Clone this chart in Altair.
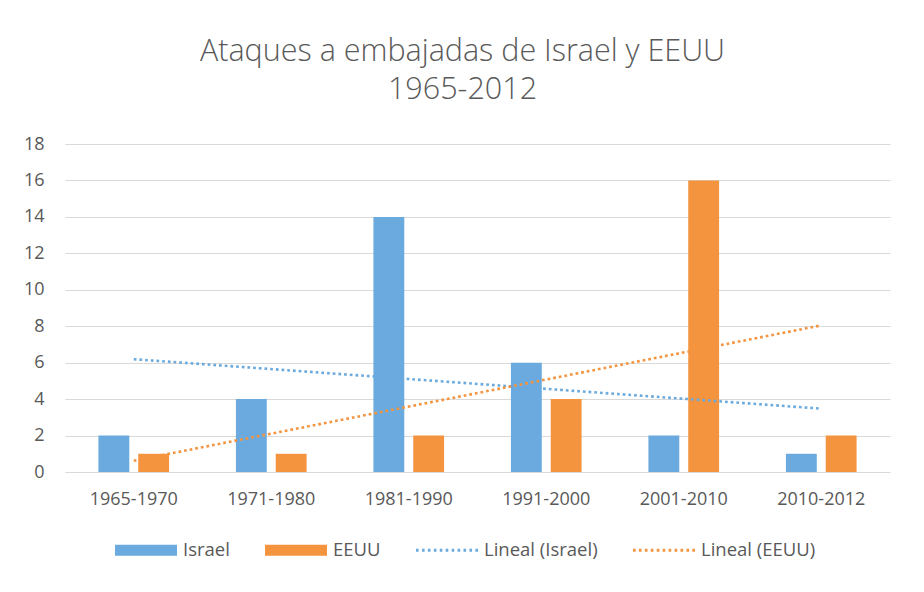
import altair as alt
import pandas as pd

# ---- data ----
categories = ["1965-1970", "1971-1980", "1981-1990", "1991-2000", "2001-2010", "2010-2012"]
israel = [2, 4, 14, 6, 2, 1]
eeuu = [1, 1, 2, 4, 16, 2]
series = ["Israel", "EEUU"]
legend_items = ["Israel", "EEUU", "Lineal (Israel)", "Lineal (EEUU)"]
y_ticks = [0, 2, 4, 6, 8, 10, 12, 14, 16, 18]
title_lines = ["Ataques a embajadas de Israel y EEUU", "1965-2012"]

BLUE = "#6aaade"
ORANGE = "#f4943f"
GRAY = "#595959"
FONT = "Open Sans"

rows = []
for i, c in enumerate(categories):
    rows.append({"cat": c, "idx": i + 1, "serie": "Israel", "value": israel[i]})
    rows.append({"cat": c, "idx": i + 1, "serie": "EEUU", "value": eeuu[i]})
df = pd.DataFrame(rows)

# legend symbol shapes (style only)
bar_path = "M-1,-0.18H1V0.18H-1Z"
dots = []
n = 11
for k in range(n):
    x0 = -1 + k * (2 - 0.085) / (n - 1)
    dots.append(f"M{x0:.3f},-0.045h0.085v0.09h-0.085Z")
dot_path = " ".join(dots)


def cscale():
    return alt.Scale(domain=legend_items, range=[BLUE, ORANGE, BLUE, ORANGE])


y_axis = alt.Axis(values=y_ticks, title=None, grid=True, gridColor="#d9d9d9",
                  domain=False, ticks=False, tickSize=0, labelPadding=21,
                  labelFont=FONT, labelFontSize=18, labelColor=GRAY)
y_scale = alt.Scale(domain=[0, 18], nice=False)

x_enc = alt.X(
    "cat:N", sort=categories,
    scale=alt.Scale(paddingInner=0.486, paddingOuter=0.243),
    axis=alt.Axis(title=None, labelAngle=0, domain=False, ticks=False, tickSize=0,
                  labelPadding=18, labelFont=FONT, labelFontSize=18, labelColor=GRAY),
)

base = alt.Chart(df)

bars = base.mark_bar().encode(
    x=x_enc,
    xOffset=alt.XOffset("serie:N", sort=series,
                        scale=alt.Scale(domain=series, paddingInner=0.225, paddingOuter=0)),
    y=alt.Y("value:Q", scale=y_scale, axis=y_axis),
    color=alt.Color("serie:N", scale=cscale(), legend=None),
)

leg = alt.Legend(title=None, orient="none", legendX=50, legendY=375,
                 direction="horizontal", columns=4, columnPadding=35,
                 symbolSize=3844, symbolStrokeWidth=0, symbolOpacity=1,
                 labelOffset=6, labelFont=FONT, labelFontSize=18.5,
                 labelColor=GRAY, padding=0)

legend_layer = base.mark_point(filled=True, opacity=0, size=1).encode(
    color=alt.Color("serie:N", scale=cscale(), legend=leg),
    shape=alt.Shape("serie:N", scale=alt.Scale(domain=legend_items,
                                               range=[bar_path, bar_path, dot_path, dot_path]),
                    legend=leg),
)

trend = base.transform_regression(
    "idx", "value", groupby=["serie"], extent=[1, 6]
).transform_calculate(
    serie="'Lineal (' + datum.serie + ')'"
).mark_line(strokeDash=[2.7, 3], strokeWidth=2.6, strokeCap="butt").encode(
    x=alt.X("idx:Q", scale=alt.Scale(domain=[0.5, 6.5], nice=False, zero=False), axis=None),
    y=alt.Y("value:Q", scale=y_scale, axis=y_axis),
    color=alt.Color("serie:N", scale=cscale(), legend=None),
)

chart = alt.layer(bars, legend_layer, trend).resolve_scale(
    x="independent", color="independent", shape="independent"
).properties(
    width=825,
    height=328,
    padding={"left": 15, "top": 28, "right": 20, "bottom": 70},
    title=alt.Title(text=title_lines, anchor="middle", font=FONT, fontSize=30.5,
                    fontWeight=300, color=GRAY, lineHeight=38, offset=30, dx=-15),
).configure_view(stroke=None)

chart.save("out.html", embed_options={"renderer": "svg", "actions": False})
